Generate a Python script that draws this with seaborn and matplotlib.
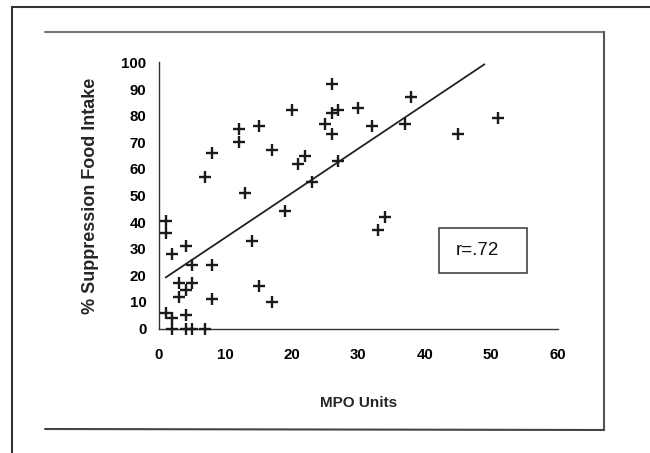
import numpy as np
import pandas as pd
import seaborn as sns
import matplotlib
matplotlib.use("Agg")
import matplotlib.pyplot as plt
from matplotlib.lines import Line2D
from matplotlib.patches import Rectangle

# MPO activity vs. suppression of food intake, one cross per subject
mpo_units = [26, 20, 26, 27, 30, 25, 26, 32, 12, 15, 12, 8, 17, 22, 21, 27,
             7, 23, 13, 38, 37, 45, 51, 34, 33, 19, 1, 1, 4, 2, 14, 5, 8,
             3, 5, 4, 3, 15, 8, 17, 1, 2, 4, 2, 4, 5, 7]
suppression = [92, 82, 81, 82, 83, 77, 73, 76, 75, 76, 70, 66, 67, 65, 62, 63,
               57, 55, 51, 87, 77, 73, 79, 42, 37, 44, 40.5, 36, 31, 28, 33, 24, 24,
               17, 17, 14.5, 12, 16, 11, 10, 6, 4, 5, 0, 0, 0, 0]

# regression line
fit_intercept = 17.5
fit_slope = 1.67
fit_x = [1, 49]
r_label = "r=.72"

x_ticks = [0, 10, 20, 30, 40, 50, 60]
y_ticks = [0, 10, 20, 30, 40, 50, 60, 70, 80, 90, 100]

sns.set_theme(style="white")
plt.rcParams["font.family"] = ["Liberation Sans", "DejaVu Sans"]

W, H = 650, 453
fig = plt.figure(figsize=(W / 100, H / 100), dpi=100)
ax = fig.add_axes([159 / W, (H - 328.5) / H, 398.5 / W, 266 / H])

df = pd.DataFrame({"mpo": mpo_units, "supp": suppression})
sns.scatterplot(data=df, x="mpo", y="supp", marker="+", s=64, color="#1a1a1a",
                linewidth=1.7, ax=ax, clip_on=False, zorder=3)

fit_y = [fit_intercept + fit_slope * v for v in fit_x]
sns.lineplot(x=fit_x, y=fit_y, color="#222222", linewidth=1.3, ax=ax)

ax.set_xlim(0, 60)
ax.set_ylim(0, 100)
ax.set_xticks(x_ticks)
ax.set_yticks(y_ticks)
for s in ("top", "right"):
    ax.spines[s].set_visible(False)
for s in ("left", "bottom"):
    ax.spines[s].set_color("#333333")
    ax.spines[s].set_linewidth(1.0)

ax.tick_params(direction="in", length=4, width=1, colors="#333333",
               labelcolor="black", labelsize=10.8)
ax.tick_params(axis="x", pad=14)
ax.tick_params(axis="y", pad=9)
for lab in ax.get_xticklabels() + ax.get_yticklabels():
    lab.set_fontweight("bold")

ax.set_xlabel("MPO Units", fontsize=11, fontweight="bold")
ax.set_ylabel("% Suppression Food Intake", fontsize=13, fontweight="bold")
ax.xaxis.set_label_coords(0.5, -0.255)
ax.yaxis.set_label_coords(-0.15, 0.5)

# correlation box
ax.add_patch(Rectangle((42.1, 21.0), 13.3, 16.9, fill=False, edgecolor="#444444",
                       linewidth=1.2, clip_on=False))
ax.text(47.9, 29.4, r_label, ha="center", va="center", fontsize=13.5, color="#111111")

# outer frame lines (pixel coordinates)
def fig_line(x0, y0, x1, y1, color="#333333", lw=1.5):
    fig.add_artist(Line2D([x0 / W, x1 / W], [1 - y0 / H, 1 - y1 / H],
                          transform=fig.transFigure, color=color, linewidth=lw))

fig_line(12, 7, 650, 7)
fig_line(12, 7, 12, 453)
fig_line(45, 32, 604, 32, color="#777777", lw=1.5)
fig_line(604, 32, 604, 430, color="#555555", lw=1.5)
fig_line(45, 429, 604, 430, color="#444444", lw=1.5)

fig.savefig("out.png", dpi=100, facecolor="white")
